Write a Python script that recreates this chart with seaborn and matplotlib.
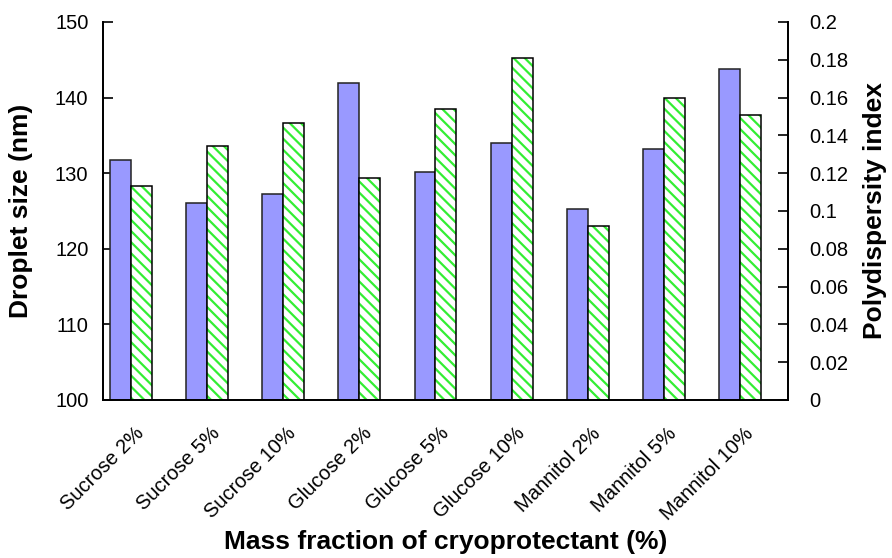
import numpy as np
import pandas as pd
import matplotlib
matplotlib.use("Agg")
import matplotlib.pyplot as plt
from matplotlib.ticker import MultipleLocator, FuncFormatter
import seaborn as sns

# data
groups = ["Sucrose 2%", "Sucrose 5%", "Sucrose 10%", "Glucose 2%", "Glucose 5%",
          "Glucose 10%", "Mannitol 2%", "Mannitol 5%", "Mannitol 10%"]
droplet_size = [131.7, 126.0, 127.3, 141.9, 130.1, 134.0, 125.3, 133.2, 143.8]
pdi = [0.113, 0.1346, 0.1464, 0.1173, 0.1538, 0.1808, 0.0921, 0.160, 0.1508]
series_order = ["size", "pdi"]

BLUE = "#9999FF"
GREEN = "#33EE33"

df_size = pd.DataFrame({"group": groups, "value": droplet_size, "series": "size"})
df_pdi = pd.DataFrame({"group": groups, "value": pdi, "series": "pdi"})

sns.set_theme(style="white")
plt.rcParams["font.family"] = ["Liberation Sans", "DejaVu Sans"]
plt.rcParams["hatch.linewidth"] = 1.6
plt.rcParams["text.color"] = "black"
plt.rcParams["axes.labelcolor"] = "black"
plt.rcParams["xtick.color"] = "black"
plt.rcParams["ytick.color"] = "black"

fig, ax1 = plt.subplots(figsize=(8.92, 5.58), dpi=100)
fig.subplots_adjust(left=0.1155, right=0.8834, top=0.9606, bottom=0.2832)
ax2 = ax1.twinx()

# droplet size (left axis)
sns.barplot(data=df_size, x="group", y="value", hue="series", hue_order=series_order,
            palette={"size": BLUE, "pdi": BLUE}, width=0.55, gap=0, dodge=True,
            saturation=1, edgecolor="#222222", linewidth=1.1, legend=False,
            ax=ax1, order=groups)

# polydispersity index (right axis): hatched fill + black outline
sns.barplot(data=df_pdi, x="group", y="value", hue="series", hue_order=series_order,
            palette={"size": "white", "pdi": "white"}, width=0.55, gap=0, dodge=True,
            saturation=1, linewidth=0, legend=False, ax=ax2, order=groups)
for p in ax2.patches:
    p.set_hatch("\\\\\\")
    p.set_edgecolor(GREEN)
    p.set_linewidth(0)
sns.barplot(data=df_pdi, x="group", y="value", hue="series", hue_order=series_order,
            palette={"size": "black", "pdi": "black"}, width=0.55, gap=0, dodge=True,
            saturation=1, fill=False, linewidth=1.1, legend=False, ax=ax2, order=groups)

# axes limits / ticks
n = len(groups)
x0 = -0.368
ax1.set_xlim(x0, x0 + n)
ax1.set_ylim(100, 150)
ax2.set_ylim(0, 0.2)

ax1.yaxis.set_major_locator(MultipleLocator(10))
ax2.yaxis.set_major_locator(MultipleLocator(0.02))
ax2.yaxis.set_major_formatter(FuncFormatter(lambda v, pos: f"{round(v, 4):g}"))

ax1.set_xticks(np.arange(n) + x0 + 0.5)
ax1.set_xticklabels(groups, rotation=45, ha="right", va="center",
                    rotation_mode="anchor", fontsize=14.5)
ax1.set_xticks(np.arange(n + 1) + x0, minor=True)
ax1.tick_params(axis="x", which="major", length=0, pad=22)
ax1.tick_params(axis="x", which="minor", direction="in", length=5.5, width=1, color="black")
ax1.tick_params(axis="y", direction="in", length=7, width=1.2, color="black",
                labelsize=14.5, pad=10.5, left=True)
ax2.tick_params(axis="y", direction="in", length=7, width=1.2, color="black",
                labelsize=14.5, pad=15, right=True)

for ax in (ax1, ax2):
    ax.spines["top"].set_visible(False)
    for s in ("left", "right", "bottom"):
        ax.spines[s].set_color("black")
        ax.spines[s].set_linewidth(1.3)
    ax.grid(False)

ax1.set_ylabel("Droplet size (nm)", fontsize=19, fontweight="bold")
ax1.yaxis.set_label_coords(-0.102, 0.5)
ax2.set_ylabel("Polydispersity index", fontsize=19, fontweight="bold")
ax2.yaxis.set_label_coords(1.11, 0.5)
ax1.set_xlabel("Mass fraction of cryoprotectant (%)", fontsize=19, fontweight="bold")
ax1.xaxis.set_label_coords(0.5, -0.343)

fig.savefig("out.png", dpi=100)
